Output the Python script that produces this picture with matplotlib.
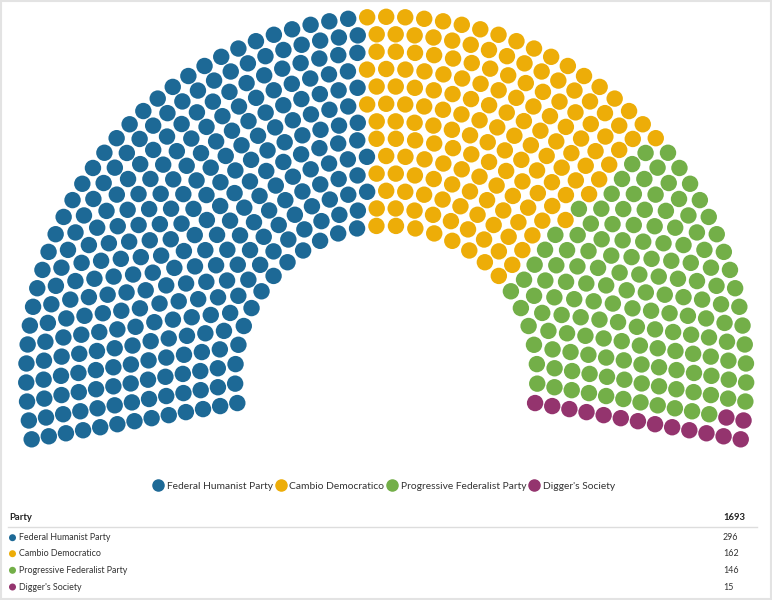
import math
import matplotlib
matplotlib.use("Agg")
import matplotlib.pyplot as plt
from matplotlib.patches import Circle, Rectangle
from matplotlib.lines import Line2D

parties = ["Federal Humanist Party", "Cambio Democratico",
           "Progressive Federalist Party", "Digger's Society"]
seats = [296, 162, 146, 15]
colors = ["#1D6996", "#EDAD08", "#73AF48", "#94346E"]
table_header = ["Party", "1693"]

plt.rcParams["font.family"] = ["Lato", "DejaVu Sans"]


def parliament_slots(total, cx, cy, diameter, inner, start_deg, end_deg):
    # arc layout in the manner of an item/parliament series
    start = math.radians(start_deg - 90)
    full = math.radians(end_deg - start_deg)
    row_frac = (diameter - inner) / diameter
    item_count = float("inf")
    final_count = item_count
    rows = None
    test_rows = None
    size = 0
    while item_count > total:
        final_count = item_count
        item_count = 0
        rows = test_rows
        test_rows = []
        size += 1
        row_count = int(math.floor(diameter / size / 2 * row_frac))
        for r in range(row_count, 0, -1):
            rad = (inner + r / row_count * (diameter - inner - size)) / 2
            length = full * rad
            cols = int(math.ceil(length / size))
            test_rows.append([rad, length, cols])
            item_count += cols + 1

    overshoot = final_count - total
    while overshoot > 0:
        order = sorted(rows, key=lambda rw: rw[2] / rw[1], reverse=True)
        for rw in order[:min(overshoot, math.ceil(len(rows) / 2))]:
            rw[2] -= 1
            overshoot -= 1

    slots = []
    for rad, length, cols in rows:
        inc = full / cols if cols else 0
        for c in range(cols + 1):
            a = start + c * inc
            slots.append((a, cx + math.cos(a) * rad, cy + math.sin(a) * rad))
    slots.sort(key=lambda s: s[0])
    return slots


fig = plt.figure(figsize=(7.72, 6.0), dpi=100)
ax = fig.add_axes([0, 0, 1, 1])
ax.set_xlim(0, 772)
ax.set_ylim(600, 0)
ax.set_aspect("equal")
ax.axis("off")

slots = parliament_slots(sum(seats), 386.2, 376.8, 738, 267.6, -100, 100)
k = 0
for n, col in zip(seats, colors):
    for i in range(n):
        a, x, y = slots[k]
        ax.add_patch(Circle((x, y), 8.2, color=col, lw=0))
        k += 1

# frame
ax.add_patch(Rectangle((0.5, 0.5), 770.5, 598, fill=False, ec="#e3e3e3", lw=1.5))

# legend
handles = [Line2D([], [], marker="o", ls="", color=c, markersize=8.0) for c in colors]
ax.legend(handles, parties, loc="center", bbox_to_anchor=(384 / 772, 1 - 486 / 600),
          bbox_transform=fig.transFigure, ncol=4, frameon=False, fontsize=7.4,
          handletextpad=0.3, columnspacing=0.3, handlelength=1.0,
          labelcolor="#333333")

# table
ax.text(9, 518, table_header[0], fontsize=6.8, fontweight="bold", color="#222222", va="center")
ax.text(723, 518, table_header[1], fontsize=6.8, fontweight="bold", color="#222222", va="center")
ax.plot([8, 757], [527, 527], color="#dddddd", lw=1)
row_y = [537.7, 553.7, 570.3, 587]
for name, n, col, y in zip(parties, seats, colors, row_y):
    ax.add_patch(Circle((12.5, y), 3.5, color=col, lw=0))
    ax.text(19, y, name, fontsize=6.4, color="#333333", va="center")
    ax.text(723, y, str(n), fontsize=6.4, color="#333333", va="center")

fig.savefig("out.png", dpi=100)
